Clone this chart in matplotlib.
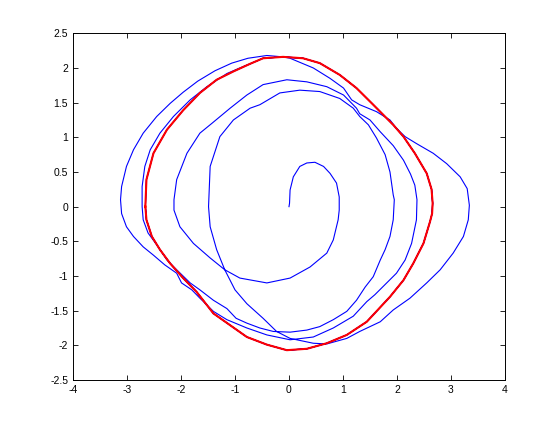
import numpy as np
import matplotlib
matplotlib.use("Agg")
import matplotlib.pyplot as plt

# ---- red limit cycle ----
red_x = [-2.66, -2.65, -2.64, -2.51, -2.26, -1.96, -1.65, -1.34, -1.03, -0.72, -0.48, -0.11, 0.26, 0.57, 0.94,
         1.25, 1.56, 1.93, 2.12, 2.33, 2.55, 2.64, 2.66, 2.65, 2.61, 2.49, 2.30, 2.12, 1.87, 1.44, 1.07, 0.70,
         0.33, -0.04, -0.41, -0.78, -1.09, -1.40, -1.71, -1.96, -2.20, -2.39, -2.54, -2.64, -2.66]
red_y = [0.00, 0.20, 0.39, 0.77, 1.11, 1.39, 1.64, 1.83, 1.95, 2.06, 2.14, 2.16, 2.14, 2.07, 1.90,
         1.71, 1.47, 1.18, 1.01, 0.77, 0.48, 0.25, 0.05, -0.10, -0.22, -0.53, -0.82, -1.06, -1.30, -1.66, -1.85, -1.97,
         -2.05, -2.07, -1.99, -1.88, -1.71, -1.54, -1.23, -1.03, -0.82, -0.62, -0.43, -0.19, 0.00]

# ---- blue trajectory, read piece by piece ----
b1_x = [0.00, 0.01, 0.02, 0.08, 0.20, 0.33, 0.48, 0.64, 0.76, 0.88, 0.93, 0.93, 0.91, 0.82, 0.70, 0.39, 0.02,
        -0.41, -0.91, -1.19, -1.46, -1.77, -2.02, -2.13, -2.13, -2.08, -1.89, -1.65, -1.43, -1.09, -0.78, -0.48,
        -0.04, 0.33, 0.70, 1.01, 1.25]
b1_y = [0.00, 0.05, 0.24, 0.43, 0.58, 0.63, 0.64, 0.58, 0.48, 0.34, 0.14, -0.05, -0.19, -0.48, -0.67, -0.87, -1.03,
        -1.10, -1.03, -0.91, -0.74, -0.53, -0.29, -0.05, 0.10, 0.39, 0.77, 1.06, 1.20, 1.42, 1.61, 1.76,
        1.83, 1.80, 1.73, 1.61, 1.42]
b2_x = [1.31, 1.50, 1.69, 1.93, 2.12, 2.25, 2.33, 2.37, 2.36, 2.27, 2.15, 1.99, 1.81, 1.59, 1.44, 1.19, 0.82,
        0.45, 0.02, -0.41, -0.78, -1.15, -1.40, -1.65, -1.80, -1.99, -2.08, -2.30, -2.51, -2.70, -2.88, -3.01,
        -3.10, -3.12, -3.10, -3.01, -2.88, -2.70, -2.45, -2.20, -1.96, -1.69, -1.37, -1.06, -0.76, -0.41, -0.11,
        0.02]
b2_y = [1.34, 1.25, 1.08, 0.88, 0.67, 0.47, 0.31, 0.10, -0.19, -0.53, -0.77, -0.96, -1.10, -1.27, -1.37, -1.58, -1.75,
        -1.88, -1.92, -1.85, -1.75, -1.63, -1.51, -1.32, -1.20, -1.10, -0.96, -0.84, -0.70, -0.58, -0.43, -0.29,
        -0.10, 0.10, 0.29, 0.58, 0.82, 1.06, 1.30, 1.49, 1.65, 1.81, 1.96, 2.07, 2.14, 2.18, 2.16,
        2.14]
b3_x = [0.45, 0.76, 1.01, 1.16, 1.31, 1.62, 1.87, 1.99, 2.15, 2.36, 2.67, 2.92, 3.17, 3.30, 3.34, 3.32, 3.23,
        3.04, 2.80, 2.55, 2.24, 1.93, 1.69, 1.31, 1.07, 0.70, 0.45, 0.02, -0.23, -0.48, -0.78, -1.00, -1.19,
        -1.34, -1.46, -1.49, -1.46, -1.28, -1.03, -0.72, -0.54, -0.17, 0.20, 0.57, 0.94, 1.19]
b3_y = [2.00, 1.85, 1.71, 1.54, 1.47, 1.37, 1.25, 1.13, 1.01, 0.91, 0.77, 0.62, 0.43, 0.26, 0.02, -0.19, -0.43,
        -0.67, -0.91, -1.10, -1.32, -1.49, -1.66, -1.80, -1.90, -1.98, -1.97, -1.90, -1.80, -1.61, -1.40, -1.20, -0.91,
        -0.62, -0.29, 0.00, 0.58, 1.01, 1.25, 1.42, 1.47, 1.64, 1.68, 1.66, 1.56, 1.42]
b4_x = [1.31, 1.47, 1.62, 1.78, 1.87, 1.93, 1.95, 1.93, 1.87, 1.78, 1.69, 1.56, 1.41, 1.25, 1.07, 0.82, 0.57,
        0.33, 0.02, -0.29, -0.54, -0.78, -0.98, -1.15, -1.40, -1.65, -1.83, -2.08, -2.26, -2.45, -2.61, -2.70,
        -2.72, -2.72, -2.67, -2.57, -2.39, -2.14, -1.83, -1.52, -1.15, -0.85]
b4_y = [1.30, 1.18, 0.99, 0.75, 0.50, 0.17, 0.10, -0.19, -0.43, -0.62, -0.77, -1.01, -1.16, -1.35, -1.51, -1.63, -1.73,
        -1.78, -1.81, -1.80, -1.75, -1.68, -1.61, -1.47, -1.35, -1.20, -1.10, -0.91, -0.77, -0.55, -0.38, -0.19,
        0.00, 0.29, 0.58, 0.82, 1.06, 1.30, 1.54, 1.73, 1.92, 2.02]

fig = plt.figure(figsize=(5.58, 4.22), dpi=100)
ax = fig.add_axes([73/558, 42/422, 432/558, 346.7/422])

red_start = 9
cyc_x = red_x[red_start:] + red_x[1:] + red_x[1:]
cyc_y = red_y[red_start:] + red_y[1:] + red_y[1:]
blue_x = b1_x + b2_x + b3_x + b4_x + cyc_x
blue_y = b1_y + b2_y + b3_y + b4_y + cyc_y
ax.plot(blue_x, blue_y, color=(0, 0, 1), lw=0.8, solid_joinstyle='round')
ax.plot(red_x, red_y, color=(1, 0, 0), lw=1.5, solid_joinstyle='round')

ax.set_xlim(-4, 4)
ax.set_ylim(-2.5, 2.5)
ax.set_xticks(np.arange(-4, 5, 1))
ax.set_yticks(np.arange(-2.5, 2.51, 0.5))
ax.set_xticklabels([str(v) for v in range(-4, 5)])
ax.set_yticklabels(['-2.5', '-2', '-1.5', '-1', '-0.5', '0', '0.5', '1', '1.5', '2', '2.5'])
ax.tick_params(direction='in', length=3.6, width=0.6, top=True, right=True, labelsize=7.5, pad=3.5)
for lab in ax.get_xticklabels() + ax.get_yticklabels():
    lab.set_family(['Liberation Sans', 'DejaVu Sans'])
for s in ax.spines.values():
    s.set_linewidth(0.7)

fig.savefig("out.png", dpi=100)
